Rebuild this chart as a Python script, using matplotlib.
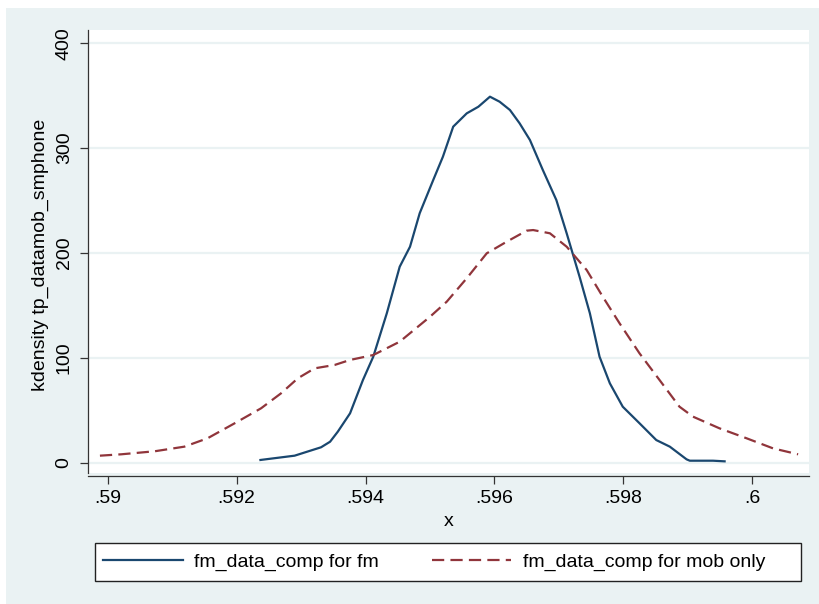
#!/usr/bin/env python3
# Kernel density of tp_datamob_smphone, fm group vs mob-only group
import matplotlib
matplotlib.use("Agg")
import matplotlib.pyplot as plt
from matplotlib.patches import Rectangle

############################ Density curves ###################################
fm_x = [0.59237, 0.59290, 0.59331, 0.59345, 0.59357, 0.59376, 0.59396, 0.59412,
        0.59433, 0.59453, 0.59469, 0.59484, 0.59505, 0.59520, 0.59536, 0.59557,
        0.59575, 0.59593, 0.59608, 0.59624, 0.59639, 0.59655, 0.59675, 0.59696,
        0.59712, 0.59732, 0.59748, 0.59763, 0.59779, 0.59799, 0.59825, 0.59851,
        0.59872, 0.59898, 0.59903, 0.59939, 0.59957]
fm_y = [2.6, 6.7, 14.7, 20.0, 29.6, 47.1, 78.9, 101.1,
        142.5, 186.9, 206.0, 237.9, 269.6, 291.8, 320.5, 333.2,
        339.5, 349.1, 344.3, 336.4, 323.7, 307.8, 279.2, 250.5,
        218.8, 177.4, 142.5, 101.1, 75.7, 53.4, 37.6, 21.6,
        15.3, 3.2, 1.9, 1.9, 1.3]

mob_x = [0.58988, 0.59021, 0.59073, 0.59119, 0.59155, 0.59197, 0.59238, 0.59269,
         0.59295, 0.59321, 0.59352, 0.59376, 0.59412, 0.59453, 0.59500, 0.59526,
         0.59557, 0.59588, 0.59619, 0.59650, 0.59660, 0.59686, 0.59712, 0.59743,
         0.59768, 0.59794, 0.59825, 0.59856, 0.59887, 0.59908, 0.59949, 0.59991,
         0.60032, 0.60071]
mob_y = [6.7, 8.0, 10.9, 15.3, 23.3, 37.6, 51.9, 66.2,
         80.5, 90.0, 93.2, 98.0, 102.7, 115.4, 139.2, 153.6,
         175.9, 199.7, 210.8, 221.3, 221.9, 218.8, 206.0, 183.8,
         158.3, 133.0, 104.3, 78.9, 53.4, 43.9, 32.8, 23.3,
         13.7, 8.0]

x_ticks = [0.590, 0.592, 0.594, 0.596, 0.598, 0.600]
x_tick_labels = [".59", ".592", ".594", ".596", ".598", ".6"]
y_ticks = [0, 100, 200, 300, 400]
labels = ["fm_data_comp for fm", "fm_data_comp for mob only"]
###############################################################################

BG = "#EAF2F3"
NAVY = "#1A476F"
MAROON = "#90353B"
W, H = 820, 604

plt.rcParams["font.family"] = ["Liberation Sans", "DejaVu Sans"]
plt.rcParams["font.size"] = 14

fig = plt.figure(figsize=(W / 100, H / 100), dpi=100, facecolor="white")

# Stata-style light background with a thin white margin top/left
fig.add_artist(Rectangle((6 / W, 0), 1, 1 - 8 / H, transform=fig.transFigure,
                         facecolor=BG, edgecolor="none", zorder=-2))

ax = fig.add_axes([88 / W, 1 - 472.7 / H, (809 - 88) / W, (472.7 - 30) / H])
ax.set_facecolor("white")

ax.plot(fm_x, fm_y, color=NAVY, lw=1.6, label=labels[0])
ax.plot(mob_x, mob_y, color=MAROON, lw=1.6, linestyle=(0, (5.5, 2.8)),
        label=labels[1])

ax.set_xlim(0.589695, 0.600879)
ax.set_ylim(-9.54, 412.7)
ax.set_xticks(x_ticks)
ax.set_xticklabels(x_tick_labels)
ax.set_yticks(y_ticks)
ax.set_yticklabels([str(v) for v in y_ticks], rotation=90, va="center")

ax.grid(axis="y", color=BG, lw=1.6)
ax.set_axisbelow(True)

for side in ["top", "right"]:
    ax.spines[side].set_visible(False)
ax.spines["bottom"].set_position(("outward", 2.4))
for side in ["left", "bottom"]:
    ax.spines[side].set_color("#333333")
    ax.spines[side].set_linewidth(0.9)
ax.tick_params(axis="both", length=6, width=0.9, color="#333333", labelsize=14)
ax.tick_params(axis="x", pad=4)
ax.tick_params(axis="y", pad=5)

# axis titles
fig.text(448.5 / W, 1 - 522 / H, "x", ha="center", va="center", fontsize=14)
fig.text(40 / W, 1 - 255 / H, "kdensity tp_datamob_smphone", rotation=90,
         ha="center", va="center", fontsize=14)

# legend box spanning the bottom
fig.add_artist(Rectangle((95 / W, 1 - 581 / H), 706 / W, 38 / H,
                         transform=fig.transFigure, facecolor="white",
                         edgecolor="#222222", lw=1.0, zorder=1))
handles, _ = ax.get_legend_handles_labels()
fig.legend(handles, labels, loc="center left", ncol=2,
           bbox_to_anchor=(103 / W, 1 - 562 / H), frameon=False,
           borderpad=0, borderaxespad=0, handlelength=4.1, handletextpad=0.6,
           columnspacing=2.7, fontsize=14)

plt.savefig("out.png", dpi=100, facecolor=fig.get_facecolor())
